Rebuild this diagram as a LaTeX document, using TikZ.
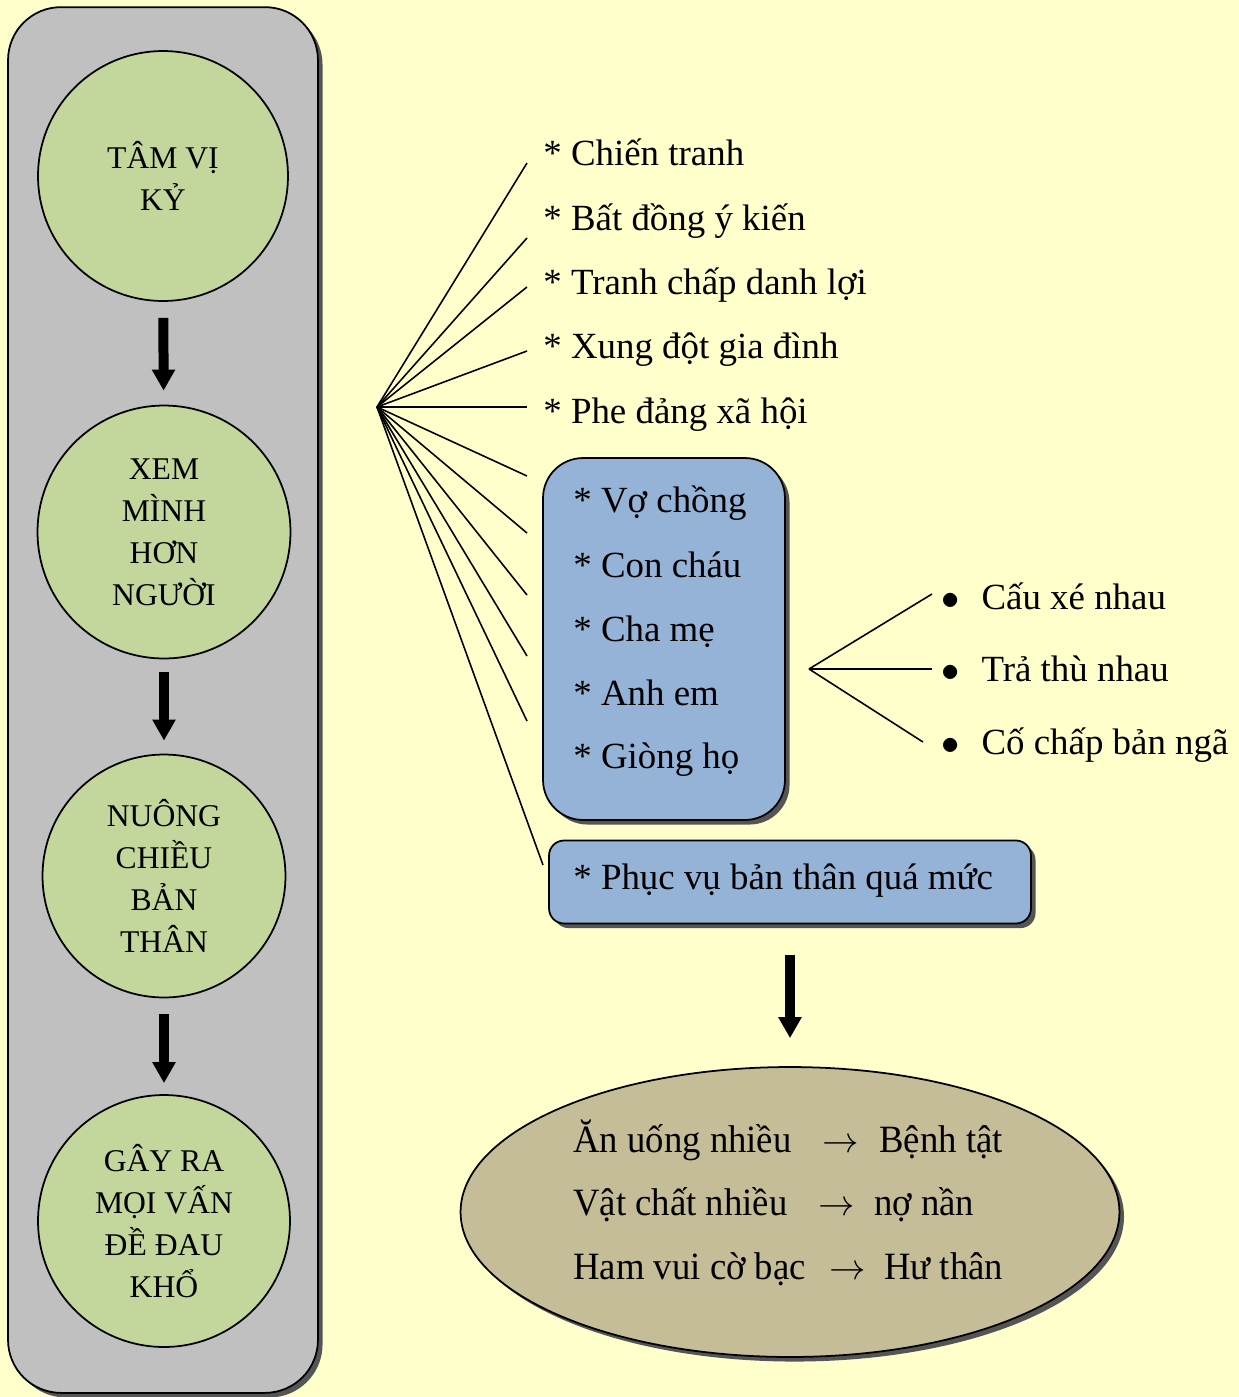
\documentclass[tikz,border=0pt]{standalone}
\usepackage{fontspec}
\setmainfont{Liberation Serif}
\usetikzlibrary{arrows.meta,shadows,shapes.geometric}
\definecolor{bgy}{HTML}{FFFFCC}
\definecolor{panelc}{HTML}{C0C0C0}
\definecolor{cgreen}{HTML}{C3D69B}
\definecolor{bluec}{HTML}{95B3D7}
\definecolor{ellc}{HTML}{C4BD97}
\definecolor{shadc}{HTML}{555555}
\begin{document}
\begin{tikzpicture}[x=0.02cm,y=-0.02cm,
  shad/.style={drop shadow={shadow xshift=2.6pt, shadow yshift=-2.6pt, fill=shadc, opacity=1}},
  panel/.style={rectangle, draw=black, line width=1pt, fill=panelc, rounded corners=1.06cm, minimum width=6.2cm, minimum height=27.72cm, inner sep=0, shad},
  circ/.style={circle, draw=black, line width=1pt, fill=cgreen, inner sep=0, align=center, font=\fontsize{18}{23.9}\selectfont},
  bigarrow/.style={line width=0.2cm, -{Triangle[width=0.44cm, length=0.42cm]}},
  txt/.style={anchor=base west, inner sep=0, font=\fontsize{21}{25}\selectfont},
  etxt/.style={anchor=base west, inner sep=0, font=\fontsize{22}{26}\selectfont},
  fan/.style={line width=0.9pt},
  bluebox/.style={rectangle, draw=black, line width=1pt, fill=bluec, inner sep=0, shad}
]
\useasboundingbox (0,0) rectangle (1239,1397);
\fill[bgy] (0,0) rectangle (1239,1397);

% left panel
\node[panel] (panel) at (163,700) {};
\node[circ, minimum size=5cm] (c1) at (163,176) {TÂM VỊ\\KỶ};
\node[circ, minimum size=5.06cm] (c2) at (164,532) {XEM\\MÌNH\\HƠN\\NGƯỜI};
\node[circ, minimum size=4.86cm] (c3) at (164,876) {NUÔNG\\CHIỀU\\BẢN\\THÂN};
\node[circ, minimum size=5.04cm] (c4) at (164,1221) {GÂY RA\\MỌI VẤN\\ĐỀ ĐAU\\KHỔ};
\draw[bigarrow, shorten <=0.32cm, shorten >=0.28cm] (c1) -- (c2);
\draw[bigarrow, shorten <=0.26cm, shorten >=0.26cm] (c2) -- (c3);
\draw[bigarrow, shorten <=0.32cm, shorten >=0.22cm] (c3) -- (c4);

% fan
\coordinate (fo) at (377,407);
\coordinate (e1) at (527,163);
\coordinate (e2) at (527,238);
\coordinate (e3) at (527,287);
\coordinate (e4) at (527,351);
\coordinate (e5) at (527,407);
\coordinate (e6) at (527,476);
\coordinate (e7) at (527,533);
\coordinate (e8) at (527,595);
\coordinate (e9) at (527,656);
\coordinate (e10) at (527,721);
\coordinate (e11) at (543,865);
\foreach \i in {1,...,11} \draw[fan] (fo) -- (e\i);

\node[txt] (t1) at (543,165) {* Chiến tranh};
\node[txt] (t2) at (543,230) {* Bất đồng ý kiến};
\node[txt] (t3) at (543,294) {* Tranh chấp danh lợi};
\node[txt] (t4) at (543,358) {* Xung đột gia đình};
\node[txt] (t5) at (543,423) {* Phe đảng xã hội};

% family box
\node[bluebox, rounded corners=0.8cm, minimum width=4.84cm, minimum height=7.24cm] (fam) at (664,639) {};
\node[txt] (v1) at (573,512) {* Vợ chồng};
\node[txt] (v2) at (573,577) {* Con cháu};
\node[txt] (v3) at (573,641) {* Cha mẹ};
\node[txt] (v4) at (573,705) {* Anh em};
\node[txt] (v5) at (573,768) {* Giòng họ};

% right fan
\coordinate (ro) at (809,669);
\coordinate (r1) at (932,594);
\coordinate (r2) at (932,669);
\coordinate (r3) at (923,742);
\foreach \i in {1,2,3} \draw[fan] (ro) -- (r\i);
\node[txt] (b1) at (941,609) {$\bullet$\hspace{0.44cm}Cấu xé nhau};
\node[txt] (b2) at (941,681) {$\bullet$\hspace{0.44cm}Trả thù nhau};
\node[txt] (b3) at (941,754) {$\bullet$\hspace{0.44cm}Cố chấp bản ngã};

% serve box
\node[bluebox, rounded corners=0.3cm, minimum width=9.64cm, minimum height=1.66cm] (pv) at (790,882) {};
\node[txt] (pvt) at (573,889) {* Phục vụ bản thân quá mức};

% ellipse
\node[ellipse, draw=black, line width=1pt, fill=ellc, minimum width=13.18cm, minimum height=5.8cm, inner sep=0, shad] (ell) at (790,1212) {};
\draw[bigarrow, shorten <=0.62cm, shorten >=0.56cm] (pv) -- (ell);

\node[etxt, xscale=0.95, transform shape] (l1) at (573,1152) {Ăn uống nhiều};
\node[txt] (a1) at (822,1152) {$\rightarrow$};
\node[etxt, xscale=0.95, transform shape] (r1t) at (879,1152) {Bệnh tật};
\node[etxt, xscale=0.95, transform shape] (l2) at (573,1215) {Vật chất nhiều};
\node[txt] (a2) at (818,1215) {$\rightarrow$};
\node[etxt, xscale=0.95, transform shape] (r2t) at (874,1215) {nợ nần};
\node[etxt, xscale=0.95, transform shape] (l3) at (573,1279) {Ham vui cờ bạc};
\node[txt] (a3) at (829,1279) {$\rightarrow$};
\node[etxt, xscale=0.95, transform shape] (r3t) at (884,1279) {Hư thân};
\end{tikzpicture}
\end{document}
